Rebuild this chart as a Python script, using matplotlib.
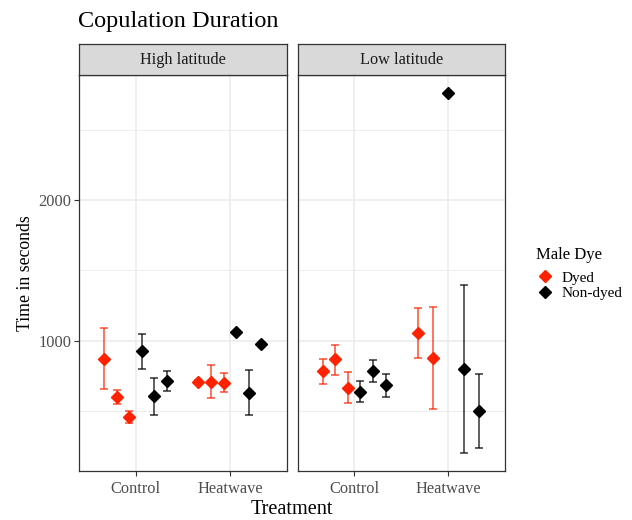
import numpy as np
import matplotlib
matplotlib.use("Agg")
import matplotlib.pyplot as plt
from matplotlib.lines import Line2D

plt.rcParams['font.family'] = ['Liberation Serif', 'DejaVu Serif']

# data (seconds); nan = no error bar
panels = ['High latitude', 'Low latitude']
treatments = ['Control', 'Heatwave']

hi_ctrl_dye = ['Dyed', 'Dyed', 'Dyed', 'Non-dyed', 'Non-dyed', 'Non-dyed']
hi_ctrl_mean = [873, 603, 463, 925, 606, 713]
hi_ctrl_lo = [657, 551, 415, 803, 474, 643]
hi_ctrl_hi = [1089, 653, 505, 1049, 739, 784]

hi_heat_dye = ['Dyed', 'Dyed', 'Dyed', 'Non-dyed', 'Non-dyed', 'Non-dyed']
hi_heat_mean = [709, 709, 704, 1061, 632, 979]
hi_heat_lo = [697, 592, 639, np.nan, 472, np.nan]
hi_heat_hi = [721, 826, 773, np.nan, 794, np.nan]

lo_ctrl_dye = ['Dyed', 'Dyed', 'Dyed', 'Non-dyed', 'Non-dyed', 'Non-dyed']
lo_ctrl_mean = [787, 868, 669, 639, 787, 685]
lo_ctrl_lo = [695, 761, 556, 568, 707, 603]
lo_ctrl_hi = [873, 974, 780, 713, 866, 768]

lo_heat_dye = ['Dyed', 'Dyed', 'Non-dyed', 'Non-dyed', 'Non-dyed']
lo_heat_mean = [1056, 878, 2760, 803, 505]
lo_heat_lo = [878, 514, np.nan, 204, 242]
lo_heat_hi = [1237, 1239, np.nan, 1399, 765]

colors = {'Dyed': '#FF2200', 'Non-dyed': 'black'}

data = {
    (0, 0): (hi_ctrl_dye, hi_ctrl_mean, hi_ctrl_lo, hi_ctrl_hi),
    (0, 1): (hi_heat_dye, hi_heat_mean, hi_heat_lo, hi_heat_hi),
    (1, 0): (lo_ctrl_dye, lo_ctrl_mean, lo_ctrl_lo, lo_ctrl_hi),
    (1, 1): (lo_heat_dye, lo_heat_mean, lo_heat_lo, lo_heat_hi),
}

# shared y range like ggplot (5% expansion)
allv = []
for d in data.values():
    allv += list(d[1]) + [v for v in d[2] if not np.isnan(v)] + [v for v in d[3] if not np.isnan(v)]
ymin, ymax = min(allv), max(allv)
pad = 0.05 * (ymax - ymin)

fig = plt.figure(figsize=(6.32, 5.2), dpi=100)
frame_col = '#333333'
lefts = [79 / 632, 297.5 / 632]
width = 207.5 / 632
bottom = 1 - 471 / 520
height = (471 - 75) / 520
strip_h = 31 / 520

for p, name in enumerate(panels):
    ax = fig.add_axes([lefts[p], bottom, width, height])
    ax.set_facecolor('white')
    for t in range(len(treatments)):
        dye, mean, lo, hi = data[(p, t)]
        n = len(mean)
        w = 0.8 / n
        for i in range(n):
            x = t + 1 - 0.4 + w * (i + 0.5)
            c = colors[dye[i]]
            if not np.isnan(lo[i]):
                ax.errorbar(x, mean[i], yerr=[[mean[i] - lo[i]], [hi[i] - mean[i]]],
                            fmt='none', ecolor=c, elinewidth=1.1, capsize=2.6,
                            capthick=1.1, alpha=0.8, zorder=3)
            ax.plot(x, mean[i], marker='D', color=c, markersize=6.2,
                    linestyle='none', zorder=4)
    ax.set_xlim(0.4, 2.6)
    ax.set_ylim(ymin - pad, ymax + pad)
    ax.set_xticks([1, 2])
    ax.set_yticks([1000, 2000])
    ax.set_yticks([500, 1500, 2500], minor=True)
    ax.grid(True, which='major', color='#EBEBEB', linewidth=1.1, zorder=0)
    ax.grid(True, which='minor', axis='y', color='#EBEBEB', linewidth=0.6, zorder=0)
    ax.set_axisbelow(True)
    ax.tick_params(which='minor', length=0)
    ax.tick_params(which='major', length=3.5, width=0.8, color=frame_col,
                   labelsize=11.8, labelcolor='#4D4D4D', pad=2)
    ax.tick_params(axis='x', pad=4)
    ax.set_xticklabels(treatments)
    if p == 0:
        ax.set_ylabel('Time in seconds', fontsize=12.8, labelpad=3)
    else:
        ax.tick_params(axis='y', labelleft=False, length=0)
    for s in ax.spines.values():
        s.set_color(frame_col)
        s.set_linewidth(0.9)

    sax = fig.add_axes([lefts[p], bottom + height, width, strip_h])
    sax.set_facecolor('#D9D9D9')
    sax.set_xticks([])
    sax.set_yticks([])
    for s in sax.spines.values():
        s.set_color(frame_col)
        s.set_linewidth(0.9)
    sax.text(0.5, 0.5, name, ha='center', va='center', fontsize=11.7,
             color='#1A1A1A', transform=sax.transAxes)

fig.text(78 / 632, 1 - 21 / 520, 'Copulation Duration', fontsize=17.5,
         ha='left', va='center')
fig.text((79 + 505) / 2 / 632, 1 - 510 / 520, 'Treatment', fontsize=14.6,
         ha='center', va='center')

handles = [Line2D([], [], marker='D', color=colors[k], linestyle='none',
                  markersize=6.2) for k in ['Dyed', 'Non-dyed']]
leg = fig.legend(handles, ['Dyed', 'Non-dyed'], title='Male Dye',
                 loc='upper left', bbox_to_anchor=(522 / 632, 1 - 233 / 520),
                 frameon=False, fontsize=11, title_fontsize=12,
                 handletextpad=0.5, labelspacing=0.1, handlelength=1.2)
leg._legend_box.align = 'left'
leg._legend_box.sep = 6

fig.savefig('out.png', dpi=100)
